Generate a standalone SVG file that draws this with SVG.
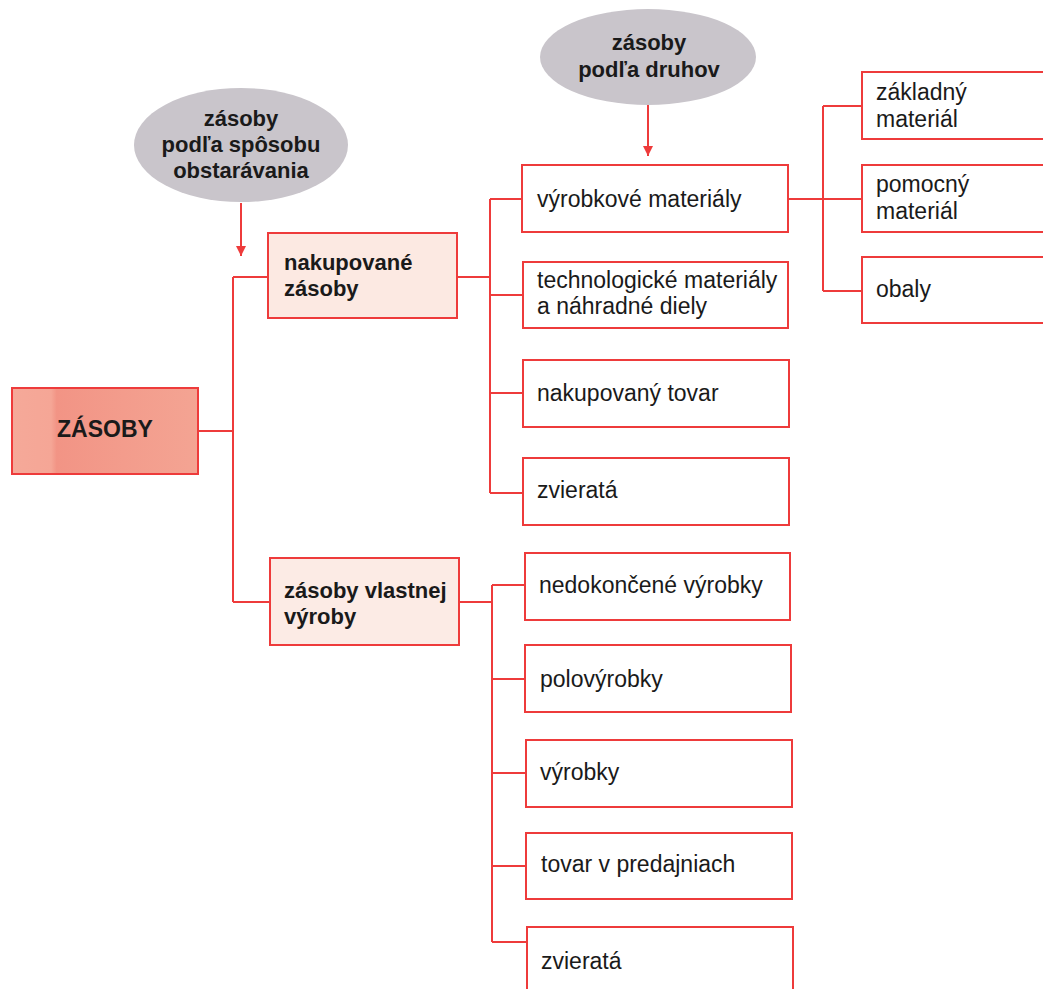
<svg xmlns="http://www.w3.org/2000/svg" width="1043" height="989" viewBox="0 0 1043 989">
<defs>
<style>
.box{fill:#fff;stroke:#ee3b3b;stroke-width:2}
.conn{fill:none;stroke:#ee3b3b;stroke-width:2}
.t{font-family:"Liberation Sans",Arial,sans-serif;font-size:23px;fill:#1a1a1a}
.b{font-family:"Liberation Sans",Arial,sans-serif;font-size:22px;font-weight:bold;fill:#1a1a1a}
.ell{fill:#c9c5cb}
</style>
<linearGradient id="gz" x1="0" y1="0" x2="1" y2="0">
<stop offset="0" stop-color="#f5a999"/>
<stop offset="0.21" stop-color="#f5a696"/>
<stop offset="0.24" stop-color="#f29485"/>
<stop offset="0.6" stop-color="#f39c8c"/>
<stop offset="1" stop-color="#f4a493"/>
</linearGradient>
<marker id="arr" viewBox="0 0 10 10" refX="10" refY="5" markerWidth="5" markerHeight="5" orient="auto" markerUnits="strokeWidth">
<path d="M0,0 L10,5 L0,10 z" fill="#ee3b3b"/>
</marker>
</defs>
<rect width="1043" height="989" fill="#fff"/>
<g id="connectors">
<path class="conn" d="M241,203 V256" marker-end="url(#arr)"/>
<path class="conn" d="M648,105 V156" marker-end="url(#arr)"/>
<path class="conn" d="M198,431 H233 M233,277 V602 M233,277 H268 M233,602 H270"/>
<path class="conn" d="M457,277 H490 M490,199 V493 M490,199 H522 M490,295 H523 M490,393 H523 M490,493 H523"/>
<path class="conn" d="M788,199 H862 M823,106 V291 M823,106 H862 M823,291 H862"/>
<path class="conn" d="M459,602 H492 M492,585 V942 M492,585 H525 M492,679 H525 M492,773 H526 M492,866 H526 M492,942 H527"/>
</g>
<g id="ell1"><ellipse class="ell" cx="241" cy="145" rx="107" ry="57"/>
<text class="b" x="241" y="126" text-anchor="middle">zásoby</text>
<text class="b" x="241" y="152" text-anchor="middle">podľa spôsobu</text>
<text class="b" x="241" y="178" text-anchor="middle">obstarávania</text></g>
<g id="ell2"><ellipse class="ell" cx="648" cy="57" rx="108" ry="48"/>
<text class="b" x="649" y="50" text-anchor="middle">zásoby</text>
<text class="b" x="649" y="77" text-anchor="middle">podľa druhov</text></g>
<g id="zasoby"><rect x="12" y="388" width="186" height="86" fill="url(#gz)" stroke="#ee3b3b" stroke-width="2"/>
<text class="b" x="57" y="437" style="font-size:23px">ZÁSOBY</text></g>
<g id="nakupovane"><rect class="box" x="268" y="233" width="189" height="85" style="fill:#fce9e2"/>
<text class="b" x="284" y="270">nakupované</text>
<text class="b" x="284" y="296">zásoby</text></g>
<g id="vlastnej"><rect class="box" x="270" y="558" width="189" height="87" style="fill:#fcebe5"/>
<text class="b" x="284" y="598">zásoby vlastnej</text>
<text class="b" x="284" y="624">výroby</text></g>
<g id="vyrobkove"><rect class="box" x="522" y="165" width="266" height="67"/>
<text class="t" x="537" y="207">výrobkové materiály</text></g>
<g id="technologicke"><rect class="box" x="523" y="262" width="265" height="66"/>
<text class="t" x="537" y="288">technologické materiály</text>
<text class="t" x="537" y="314">a náhradné diely</text></g>
<g id="nakupovany"><rect class="box" x="523" y="360" width="266" height="67"/>
<text class="t" x="537" y="401">nakupovaný tovar</text></g>
<g id="zvierata1"><rect class="box" x="523" y="458" width="266" height="67"/>
<text class="t" x="537" y="498">zvieratá</text></g>
<g id="zakladny"><rect class="box" x="862" y="72" width="190" height="67"/>
<text class="t" x="876" y="100">základný</text>
<text class="t" x="876" y="127">materiál</text></g>
<g id="pomocny"><rect class="box" x="862" y="165" width="190" height="67"/>
<text class="t" x="876" y="192">pomocný</text>
<text class="t" x="876" y="219">materiál</text></g>
<g id="obaly"><rect class="box" x="862" y="257" width="190" height="66"/>
<text class="t" x="876" y="297">obaly</text></g>
<g id="nedokoncene"><rect class="box" x="525" y="553" width="265" height="67"/>
<text class="t" x="539" y="593">nedokončené výrobky</text></g>
<g id="polovyrobky"><rect class="box" x="525" y="645" width="266" height="67"/>
<text class="t" x="540" y="687">polovýrobky</text></g>
<g id="vyrobky"><rect class="box" x="526" y="740" width="266" height="67"/>
<text class="t" x="540" y="780">výrobky</text></g>
<g id="tovar"><rect class="box" x="526" y="833" width="266" height="66"/>
<text class="t" x="541" y="872">tovar v predajniach</text></g>
<g id="zvierata2"><rect class="box" x="527" y="927" width="266" height="80"/>
<text class="t" x="541" y="969">zvieratá</text></g>
</svg>
